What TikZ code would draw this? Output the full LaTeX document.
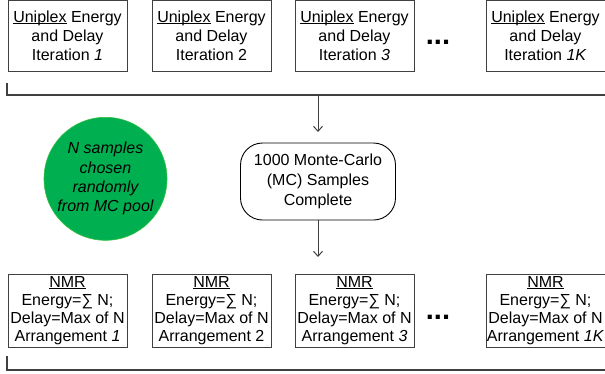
\documentclass[tikz,border=0pt]{standalone}
\usepackage{fontspec}
\setmainfont{Liberation Sans}
\usetikzlibrary{arrows.meta}
\definecolor{linegray}{HTML}{404040}
\definecolor{poolgreen}{HTML}{00B050}
\newcommand\myul[1]{\setbox0\hbox{#1}\rlap{\rule[-1.7pt]{\wd0}{0.9pt}}#1}
\tikzset{
  itbox/.style={draw=linegray, line width=0.9pt, minimum width=119pt, minimum height=71pt,
    inner sep=0pt, align=center, font=\fontsize{16}{19}\selectfont},
  nmrbox/.style={draw=linegray, line width=0.9pt, minimum width=119pt, minimum height=73pt,
    inner sep=0pt, align=center, font=\fontsize{16}{18}\selectfont},
  dotsnode/.style={anchor=base, inner sep=0pt, font=\fontsize{29}{29}\selectfont\bfseries},
  bracket/.style={draw=linegray, line width=1.3pt},
  flowarrow/.style={draw=linegray, line width=1pt, -{Straight Barb[length=5pt,width=9pt]}},
}
\begin{document}
\begin{tikzpicture}[x=1pt,y=-1pt]
\useasboundingbox (0,0) rectangle (605,373);
% top row
\node[itbox] (u1) at (67.5,35.8) {\myul{Uniplex} Energy\\and Delay\\Iteration \textit{1}};
\node[itbox] (u2) at (211.5,35.8) {\myul{Uniplex} Energy\\and Delay\\Iteration 2};
\node[itbox] (u3) at (354.5,35.8) {\myul{Uniplex} Energy\\and Delay\\Iteration \textit{3}};
\node[dotsnode] (d1) at (438,44) {...};
\node[itbox] (u4) at (545.5,35.8) {\myul{Uniplex} Energy\\and Delay\\Iteration \textit{1K}};
% top bracket
\coordinate (tb0) at (7,83);
\coordinate (tb1) at (7,95);
\coordinate (tb2) at (605,95);
\coordinate (ta) at (318,95);
\draw[bracket] (tb0) -- (tb1) -- (tb2);
% middle
\node[circle, fill=poolgreen, draw=poolgreen!80!yellow, line width=0.6pt, minimum size=123pt,
  inner sep=0pt, align=center, font=\fontsize{16}{19.3}\selectfont\itshape] (pool) at (105.5,178.8)
  {N samples\\chosen\\randomly\\from MC pool};
\node[draw=black, line width=0.9pt, rounded corners=22pt, minimum width=155pt, minimum height=77pt,
  inner sep=0pt, align=center, font=\fontsize{16}{20}\selectfont] (mc) at (318,181.5)
  {1000 Monte-Carlo\\(MC) Samples\\Complete};
\coordinate (ae) at (318,132);
\coordinate (be) at (318,257);
\draw[flowarrow] (ta) -- (ae);
\draw[flowarrow] (mc.south) -- (be);
% bottom row
\node[nmrbox] (n1) at (67.5,310.5) {\myul{NMR}\\Energy=∑ N;\\Delay=Max of N\\Arrangement \textit{1}};
\node[nmrbox] (n2) at (211.5,310.5) {\myul{NMR}\\Energy=∑ N;\\Delay=Max of N\\Arrangement 2};
\node[nmrbox] (n3) at (354.5,310.5) {\myul{NMR}\\Energy=∑ N;\\Delay=Max of N\\Arrangement \textit{3}};
\node[dotsnode] (d2) at (438,319) {...};
\node[nmrbox] (n4) at (545.5,310.5) {\myul{NMR}\\Energy=∑ N;\\Delay=Max of N\\Arrangement \textit{1K}};
% bottom bracket
\coordinate (bb0) at (7,356);
\coordinate (bb1) at (7,370);
\coordinate (bb2) at (605,370);
\draw[bracket] (bb0) -- (bb1) -- (bb2);
\end{tikzpicture}
\end{document}
